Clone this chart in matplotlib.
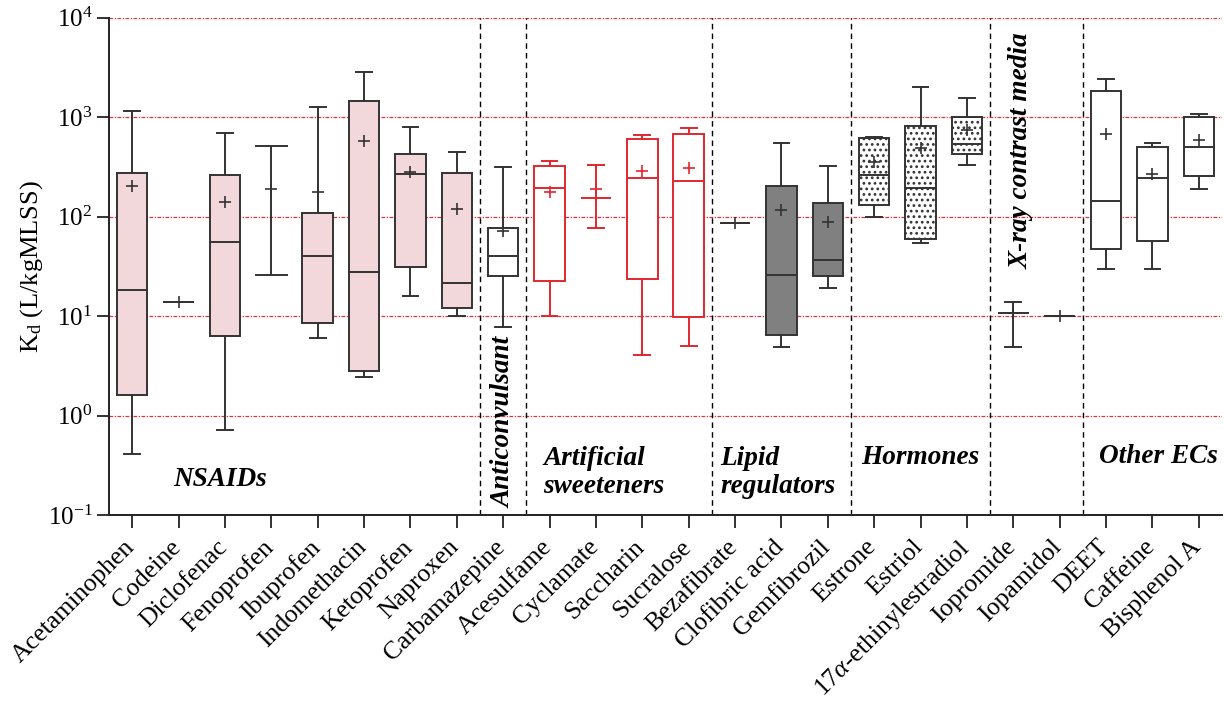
import numpy as np
import matplotlib
matplotlib.use('Agg')
import matplotlib.pyplot as plt
import matplotlib.transforms as mtransforms
from matplotlib.ticker import FixedLocator, FuncFormatter, NullLocator

plt.rcParams['font.family'] = ['Liberation Serif', 'DejaVu Serif']
plt.rcParams['mathtext.fontset'] = 'custom'
plt.rcParams['mathtext.rm'] = 'Liberation Serif'
plt.rcParams['mathtext.it'] = 'Liberation Serif:italic'
plt.rcParams['mathtext.bf'] = 'Liberation Serif:bold'
plt.rcParams['hatch.linewidth'] = 1.2

# Kd values (L/kgMLSS)
compounds = ['Acetaminophen', 'Codeine', 'Diclofenac', 'Fenoprofen', 'Ibuprofen',
             'Indomethacin', 'Ketoprofen', 'Naproxen', 'Carbamazepine', 'Acesulfame',
             'Cyclamate', 'Saccharin', 'Sucralose', 'Bezafibrate', 'Clofibric acid',
             'Gemfibrozil', 'Estrone', 'Estriol', '17$\\it{\\alpha}$-ethinylestradiol',
             'Iopromide', 'Iopamidol', 'DEET', 'Caffeine', 'Bisphenol A']
whislo = [0.41, 13.8, 0.715, 25.8, 5.97, 2.44, 15.9, 10.0, 7.8, 10.0, 76.6, 4.08,
          5.03, 85.4, 4.9, 19.2, 100, 53.8, 332, 4.91, 10.0, 29.7, 29.7, 188]
q1 = [1.62, 13.8, 6.3, 188, 8.5, 2.80, 31.3, 12.1, 25.1, 22.5, 154.6, 23.7,
      9.7, 85.4, 6.5, 25.1, 131.5, 59.8, 425, 10.8, 10.0, 47.1, 57.1, 253]
median = [18.1, 13.8, 55.1, 188, 39.8, 27.9, 267, 21.3, 39.8, 192, 154.6, 245,
          227, 85.4, 25.8, 36.8, 259, 192, 539, 10.8, 10.0, 143, 245, 499]
q3 = [274, 13.8, 259, 188, 108, 1438, 422, 274, 76, 324, 154.6, 601,
      670, 85.4, 203, 136, 619, 806, 1007, 10.8, 10.0, 1840, 499, 1000]
whishi = [1156, 13.8, 691, 511, 1251, 2853, 794, 445, 312, 359, 332, 664,
          769, 85.4, 552, 324, 634, 1987, 1552, 13.8, 10.0, 2393, 552, 1064]
means = [204, 13.8, 139, 188, 177, 574, 280, 120, 72, 175, 188, 287,
         305, 85.4, 116, 87.5, 353, 492, 735, 10.8, 10.0, 670, 267, 583]

# group dividers and labels
dividers = [7.5, 8.5, 12.5, 15.5, 18.5, 20.5]
group_names = ['NSAIDs', 'Anticonvulsant', 'Artificial\nsweeteners', 'Lipid\nregulators',
               'Hormones', 'X-ray contrast media', 'Other ECs']

# styles per compound
pink, red, grey = '#f2d8da', '#e0282e', '#808080'
face = [pink] * 8 + ['white'] * 6 + [grey] * 2 + ['white'] * 8
edge = ['#333333'] * 9 + [red] * 4 + ['#333333'] * 11
hatch = [''] * 16 + ['...'] * 3 + [''] * 5
shape = ['box'] * 24
shape[3] = 'bar'
shape[10] = 'nobox'
shape[19] = 'nobox'

fig = plt.figure(figsize=(12.24, 7.02), dpi=100)
ax = fig.add_axes([109 / 1224, 1 - 515 / 702, (1222 - 109) / 1224, (515 - 17.5) / 702])

for i in range(len(compounds)):
    st = dict(whislo=whislo[i], q1=q1[i], med=median[i], q3=q3[i],
              whishi=whishi[i], mean=means[i], fliers=[])
    c = edge[i]
    ax.bxp([st], positions=[i], widths=0.66,
           capwidths=[0.66 if shape[i] == 'bar' else 0.34],
           showbox=shape[i] == 'box', showmeans=True, patch_artist=True,
           manage_ticks=False,
           boxprops=dict(facecolor=face[i], edgecolor=c, linewidth=1.4, hatch=hatch[i]),
           whiskerprops=dict(color=c, linewidth=1.4),
           capprops=dict(color=c, linewidth=1.4),
           medianprops=dict(color=c, linewidth=0 if shape[i] == 'bar' else 1.4),
           meanprops=dict(marker='+', markeredgecolor=c, markersize=8, markeredgewidth=1.2),
           zorder=3)

# red decade grid
for e in range(0, 5):
    ax.axhline(10.0 ** e, color='#e0313c', ls=(0, (3, 1.2, 1, 1.2)), lw=0.9, zorder=1)

for xd in dividers:
    ax.axvline(xd, color='black', ls=(0, (4, 3)), lw=1.0, zorder=2)

ax.set_yscale('log')
ax.set_ylim(0.1, 1e4)
ax.set_xlim(-0.5, 23.5)
ax.yaxis.set_major_locator(FixedLocator([10.0 ** e for e in range(-1, 5)]))
ax.yaxis.set_minor_locator(NullLocator())
ax.yaxis.set_major_formatter(FuncFormatter(lambda v, p: '$10^{%d}$' % int(round(np.log10(v)))))

ax.set_xticks(range(len(compounds)))
ax.set_xticklabels(compounds, rotation=45, ha='right', va='top', rotation_mode='anchor',
                   fontsize=18.5)
ax.tick_params(axis='both', direction='out', length=9, width=1.3, colors='#222222',
               labelcolor='black')
ax.tick_params(axis='y', labelsize=18, pad=3)
ax.tick_params(axis='x', pad=6)
shift = mtransforms.ScaledTranslation(-9 / 100, 0, fig.dpi_scale_trans)
for t in ax.get_xticklabels():
    t.set_transform(t.get_transform() + shift)

for s in ['top', 'right']:
    ax.spines[s].set_visible(False)
for s in ['left', 'bottom']:
    ax.spines[s].set_linewidth(1.4)
    ax.spines[s].set_color('#222222')

ax.set_ylabel('K$_{\\rm d}$ (L/kgMLSS)', fontsize=19, labelpad=2)

lab = dict(fontsize=19.6, fontweight='bold', fontstyle='italic', zorder=4)
ax.text(1.9, 0.225, group_names[0], ha='center', va='center', **lab)
ax.text(8.02, 0.117, group_names[1], ha='center', va='bottom', rotation=90, **lab)
ax.text(8.86, 0.267, group_names[2], ha='left', va='center', linespacing=1.15, **lab)
ax.text(12.68, 0.267, group_names[3], ha='left', va='center', linespacing=1.15, **lab)
ax.text(17.0, 0.38, group_names[4], ha='center', va='center', **lab)
ax.text(19.18, 7145, group_names[5], ha='center', va='top', rotation=90, **lab)
ax.text(22.14, 0.383, group_names[6], ha='center', va='center', **lab)

fig.savefig('out.png', dpi=100)
